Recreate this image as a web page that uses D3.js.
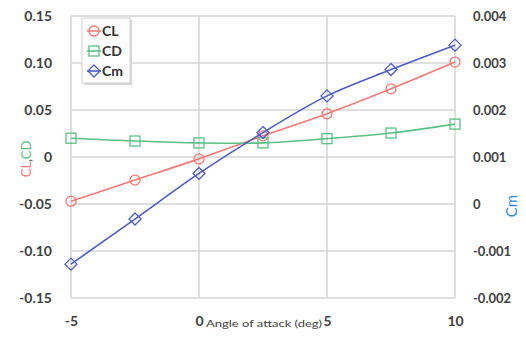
<!DOCTYPE html>
<html>
<head>
<meta charset="utf-8">
<script src="https://cdn.jsdelivr.net/npm/d3@7"></script>
<style>
  body { margin: 0; background: #fff; }
  text { font-family: Lato, "Open Sans", sans-serif; }
</style>
</head>
<body>
<svg id="chart" width="526" height="338"></svg>
<script>
// angle of attack (deg)
var alpha = [-5, -2.5, 0, 2.5, 5, 7.5, 10];
var clValues = [-0.047, -0.0245, -0.002, 0.0225, 0.046, 0.0725, 0.101];
var cdValues = [0.020, 0.017, 0.015, 0.015, 0.0195, 0.0255, 0.035];
var cmValues = [-0.00128, -0.00032, 0.00065, 0.00152, 0.0023, 0.00286, 0.00338];
var leftTicks = [-0.15, -0.10, -0.05, 0, 0.05, 0.10, 0.15];
var rightTicks = [-0.002, -0.001, 0, 0.001, 0.002, 0.003, 0.004];
var xTicks = [-5, 0, 5, 10];

var svg = d3.select("#chart");
var plotLeft = 71, plotRight = 455, plotTop = 16, plotBottom = 298;

var x = d3.scaleLinear().domain([-5, 10]).range([plotLeft, plotRight]);
var yL = d3.scaleLinear().domain([-0.15, 0.15]).range([plotBottom, plotTop]);
var yR = d3.scaleLinear().domain([-0.002, 0.004]).range([plotBottom, plotTop]);

var gridColor = "#d4d4d4", labelColor = "#404040";

// plain hyphen minus like the original
function fmt(p) {
    var f = d3.format("." + p + "f");
    return function (d) { return d === 0 ? "0" : f(d).replace("\u2212", "-"); };
}

// gridlines
svg.append("g").selectAll("line").data(leftTicks).enter().append("line")
    .attr("x1", plotLeft).attr("x2", plotRight)
    .attr("y1", function (d) { return yL(d); })
    .attr("y2", function (d) { return yL(d); })
    .attr("stroke", gridColor).attr("stroke-width", 1.5);
svg.append("g").selectAll("line").data(xTicks).enter().append("line")
    .attr("x1", function (d) { return x(d); })
    .attr("x2", function (d) { return x(d); })
    .attr("y1", plotTop).attr("y2", plotBottom)
    .attr("stroke", gridColor).attr("stroke-width", 1.5);

// axes (labels only)
var axL = svg.append("g").attr("transform", "translate(" + (plotLeft - 5) + ",0)")
    .call(d3.axisLeft(yL).tickValues(leftTicks).tickSize(0).tickPadding(14).tickFormat(fmt(2)));
var axR = svg.append("g").attr("transform", "translate(" + (plotRight + 4) + ",0)")
    .call(d3.axisRight(yR).tickValues(rightTicks).tickSize(0).tickPadding(14).tickFormat(fmt(3)));
var axX = svg.append("g").attr("transform", "translate(0," + plotBottom + ")")
    .call(d3.axisBottom(x).tickValues(xTicks).tickSize(0).tickPadding(18).tickFormat(fmt(0)));
[axL, axR, axX].forEach(function (ax) {
    ax.select(".domain").remove();
    ax.selectAll("text").attr("fill", labelColor).style("font-size", "14px")
        .style("font-weight", "bold").style("font-family", "Lato, sans-serif");
});
axR.selectAll("text").style("font-size", "13px");

// axis titles
svg.append("text").attr("x", 206).attr("y", 327)
    .attr("fill", labelColor).style("font-size", "10px")
    .attr("textLength", 116).attr("lengthAdjust", "spacingAndGlyphs")
    .text("Angle of attack (deg)");
var lt = svg.append("text")
    .attr("transform", "translate(31,159) rotate(-90)")
    .attr("text-anchor", "middle").style("font-size", "13px");
lt.append("tspan").attr("fill", "#f07a78").text("CL");
lt.append("tspan").attr("fill", labelColor).text(",");
lt.append("tspan").attr("fill", "#5cbf84").text("CD");
svg.append("text")
    .attr("transform", "translate(517,206) rotate(-90)")
    .attr("text-anchor", "middle").attr("fill", "#3a8ad4")
    .style("font-size", "15px").text("Cm");

// series
var series = [
    {name: "CL", values: clValues, y: yL, color: "#f07a78", marker: "circle"},
    {name: "CD", values: cdValues, y: yL, color: "#5cbf84", marker: "square"},
    {name: "Cm", values: cmValues, y: yR, color: "#4c5cc0", marker: "diamond"}
];

function drawMarker(g, type, cx, cy, color) {
    if (type === "circle") {
        g.append("circle").attr("cx", cx).attr("cy", cy).attr("r", 5)
            .attr("fill", "none").attr("stroke", color).attr("stroke-width", 1.3);
    } else if (type === "square") {
        g.append("rect").attr("x", cx - 5).attr("y", cy - 5).attr("width", 10).attr("height", 10)
            .attr("fill", "none").attr("stroke", color).attr("stroke-width", 1.3);
    } else {
        g.append("path").attr("d", "M" + cx + "," + (cy - 6) + "L" + (cx + 6) + "," + cy +
            "L" + cx + "," + (cy + 6) + "L" + (cx - 6) + "," + cy + "Z")
            .attr("fill", "none").attr("stroke", color).attr("stroke-width", 1.3);
    }
}

series.forEach(function (s) {
    var line = d3.line()
        .x(function (d, i) { return x(alpha[i]); })
        .y(function (d) { return s.y(d); })
        .curve(d3.curveCatmullRom.alpha(0.5));
    var g = svg.append("g");
    g.append("path").datum(s.values).attr("d", line)
        .attr("fill", "none").attr("stroke", s.color).attr("stroke-width", 1.6);
    s.values.forEach(function (v, i) {
        drawMarker(g, s.marker, x(alpha[i]), s.y(v), s.color);
    });
});

// legend
var lg = svg.append("g");
lg.append("rect").attr("x", 84).attr("y", 20).attr("width", 48).attr("height", 65)
    .attr("fill", "#d8d8d8");
lg.append("rect").attr("x", 82).attr("y", 18).attr("width", 48).attr("height", 65)
    .attr("fill", "#fff").attr("stroke", "#cfcfcf");
series.forEach(function (s, i) {
    var cy = 31 + i * 20;
    lg.append("line").attr("x1", 87).attr("x2", 101).attr("y1", cy).attr("y2", cy)
        .attr("stroke", s.color).attr("stroke-width", 1.6);
    drawMarker(lg, s.marker, 94, cy, s.color);
    lg.append("text").attr("x", 102).attr("y", cy + 5).attr("fill", "#303030")
        .style("font-size", "14px").style("font-weight", "bold").text(s.name);
});
</script>
</body>
</html>
